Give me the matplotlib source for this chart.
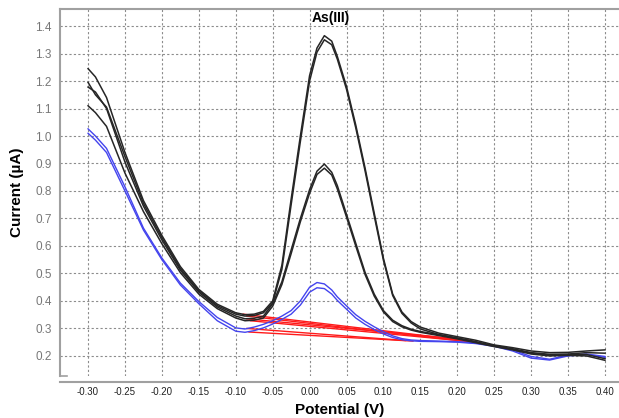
import matplotlib
matplotlib.use('Agg')
import matplotlib.pyplot as plt
import numpy as np

plt.rcParams['font.family'] = ['Liberation Sans', 'DejaVu Sans']

# potential grid (V)
potential = [-0.300, -0.290, -0.275, -0.250, -0.225, -0.200, -0.175, -0.150, -0.125, -0.100,
             -0.0875, -0.075, -0.0625, -0.050, -0.0375, -0.025, -0.0125, 0.000, 0.010, 0.020,
             0.030, 0.0375, 0.050, 0.0625, 0.075, 0.0875, 0.100, 0.1125, 0.125, 0.1375,
             0.150, 0.175, 0.200, 0.225, 0.250, 0.275, 0.300, 0.325, 0.350, 0.375, 0.400]

# currents (uA) - high As(III) scans
high_1 = [1.245, 1.215, 1.140, 0.940, 0.765, 0.638, 0.525, 0.442, 0.388, 0.357,
          0.350, 0.352, 0.362, 0.400, 0.530, 0.770, 1.000, 1.220, 1.320, 1.365,
          1.345, 1.290, 1.180, 1.040, 0.885, 0.720, 0.555, 0.425, 0.360, 0.325,
          0.305, 0.283, 0.270, 0.257, 0.240, 0.230, 0.218, 0.212, 0.213, 0.218, 0.222]
high_2 = [1.195, 1.150, 1.105, 0.925, 0.755, 0.630, 0.518, 0.437, 0.383, 0.352,
          0.345, 0.347, 0.357, 0.393, 0.515, 0.750, 0.980, 1.200, 1.305, 1.350,
          1.332, 1.280, 1.170, 1.030, 0.875, 0.710, 0.548, 0.420, 0.355, 0.320,
          0.298, 0.278, 0.265, 0.252, 0.237, 0.226, 0.212, 0.206, 0.207, 0.212, 0.210]
# middle As(III) scans
mid_1 = [1.178, 1.160, 1.100, 0.905, 0.745, 0.622, 0.512, 0.432, 0.378, 0.345,
         0.335, 0.337, 0.345, 0.390, 0.470, 0.585, 0.700, 0.805, 0.872, 0.898,
         0.868, 0.820, 0.715, 0.610, 0.505, 0.425, 0.365, 0.330, 0.310, 0.297,
         0.289, 0.277, 0.265, 0.250, 0.236, 0.224, 0.210, 0.203, 0.204, 0.205, 0.190]
mid_2 = [1.110, 1.085, 1.035, 0.865, 0.725, 0.608, 0.503, 0.425, 0.372, 0.338,
         0.328, 0.330, 0.338, 0.381, 0.460, 0.572, 0.688, 0.792, 0.860, 0.883,
         0.858, 0.808, 0.705, 0.600, 0.497, 0.418, 0.360, 0.325, 0.306, 0.294,
         0.286, 0.274, 0.262, 0.248, 0.234, 0.222, 0.207, 0.200, 0.202, 0.200, 0.184]
# low (blue) scans
low_1 = [1.026, 1.000, 0.955, 0.815, 0.665, 0.556, 0.465, 0.398, 0.340, 0.302,
         0.298, 0.305, 0.315, 0.328, 0.345, 0.365, 0.400, 0.450, 0.467, 0.462,
         0.440, 0.415, 0.382, 0.350, 0.326, 0.306, 0.288, 0.273, 0.263, 0.258,
         0.256, 0.254, 0.252, 0.247, 0.237, 0.222, 0.198, 0.188, 0.203, 0.207, 0.198]
low_2 = [1.010, 0.985, 0.940, 0.800, 0.658, 0.550, 0.458, 0.390, 0.328, 0.290,
         0.286, 0.292, 0.302, 0.316, 0.333, 0.352, 0.385, 0.432, 0.448, 0.445,
         0.425, 0.402, 0.370, 0.338, 0.315, 0.296, 0.280, 0.267, 0.259, 0.255,
         0.253, 0.252, 0.250, 0.245, 0.235, 0.218, 0.192, 0.185, 0.200, 0.205, 0.195]

# baselines (red) start/end points
base_x0 = [-0.090, -0.085, -0.085, -0.080, -0.085, -0.082]
base_y0 = [0.352, 0.345, 0.335, 0.328, 0.300, 0.287]
base_x1 = [0.225, 0.220, 0.215, 0.210, 0.130, 0.140]
base_y1 = [0.252, 0.250, 0.258, 0.254, 0.256, 0.254]

xticks = [-0.30, -0.25, -0.20, -0.15, -0.10, -0.05, 0.00, 0.05, 0.10, 0.15, 0.20, 0.25, 0.30, 0.35, 0.40]
yticks = [0.2, 0.3, 0.4, 0.5, 0.6, 0.7, 0.8, 0.9, 1.0, 1.1, 1.2, 1.3, 1.4]

fig = plt.figure(figsize=(6.19, 4.18), dpi=100)
ax = fig.add_axes([60 / 619, 1 - 376 / 418, 559 / 619, 367 / 418])

for xa, ya, xb, yb in zip(base_x0, base_y0, base_x1, base_y1):
    ax.plot([xa, xb], [ya, yb], color='#ff1a1a', lw=1.0, zorder=2)

for cur in [low_1, low_2]:
    ax.plot(potential, cur, color='#4444ee', lw=1.0, zorder=3)
for cur in [high_1, high_2, mid_1, mid_2]:
    ax.plot(potential, cur, color='#262626', lw=1.1, zorder=4)

ax.set_xlim(-0.338, 0.419)
ax.set_ylim(0.127, 1.462)
ax.set_xticks(xticks)
ax.set_xticklabels(['%.2f' % v for v in xticks])
ax.set_yticks(yticks)
ax.set_yticklabels(['%.1f' % v for v in yticks])
ax.grid(True, color='#8c8c8c', lw=0.8, linestyle=(0, (2, 2)))
ax.set_axisbelow(True)

ax.tick_params(axis='y', length=0, pad=6, labelsize=8.5, labelcolor='#777777')
ax.tick_params(axis='x', length=0, pad=4, labelsize=7, labelcolor='#222222')

for s in ['left', 'top']:
    ax.spines[s].set_color('#a0a0a0')
    ax.spines[s].set_linewidth(1.5)
ax.spines['right'].set_visible(False)
ax.spines['bottom'].set_position(('outward', 4))
ax.spines['bottom'].set_color('#a0a0a0')
ax.spines['bottom'].set_linewidth(1.5)
ax.plot([0, 0.012], [0, 0], transform=ax.transAxes, color='#a0a0a0', lw=1.2, clip_on=False)

ax.set_xlabel('Potential (V)', fontsize=11, fontweight='bold', labelpad=4)
ax.set_ylabel('Current (µA)', fontsize=11, fontweight='bold', labelpad=8)
ax.text(0.029, 1.43, 'As(III)', fontsize=10, fontweight='bold', ha='center', va='center')

fig.savefig('out.png', dpi=100)
